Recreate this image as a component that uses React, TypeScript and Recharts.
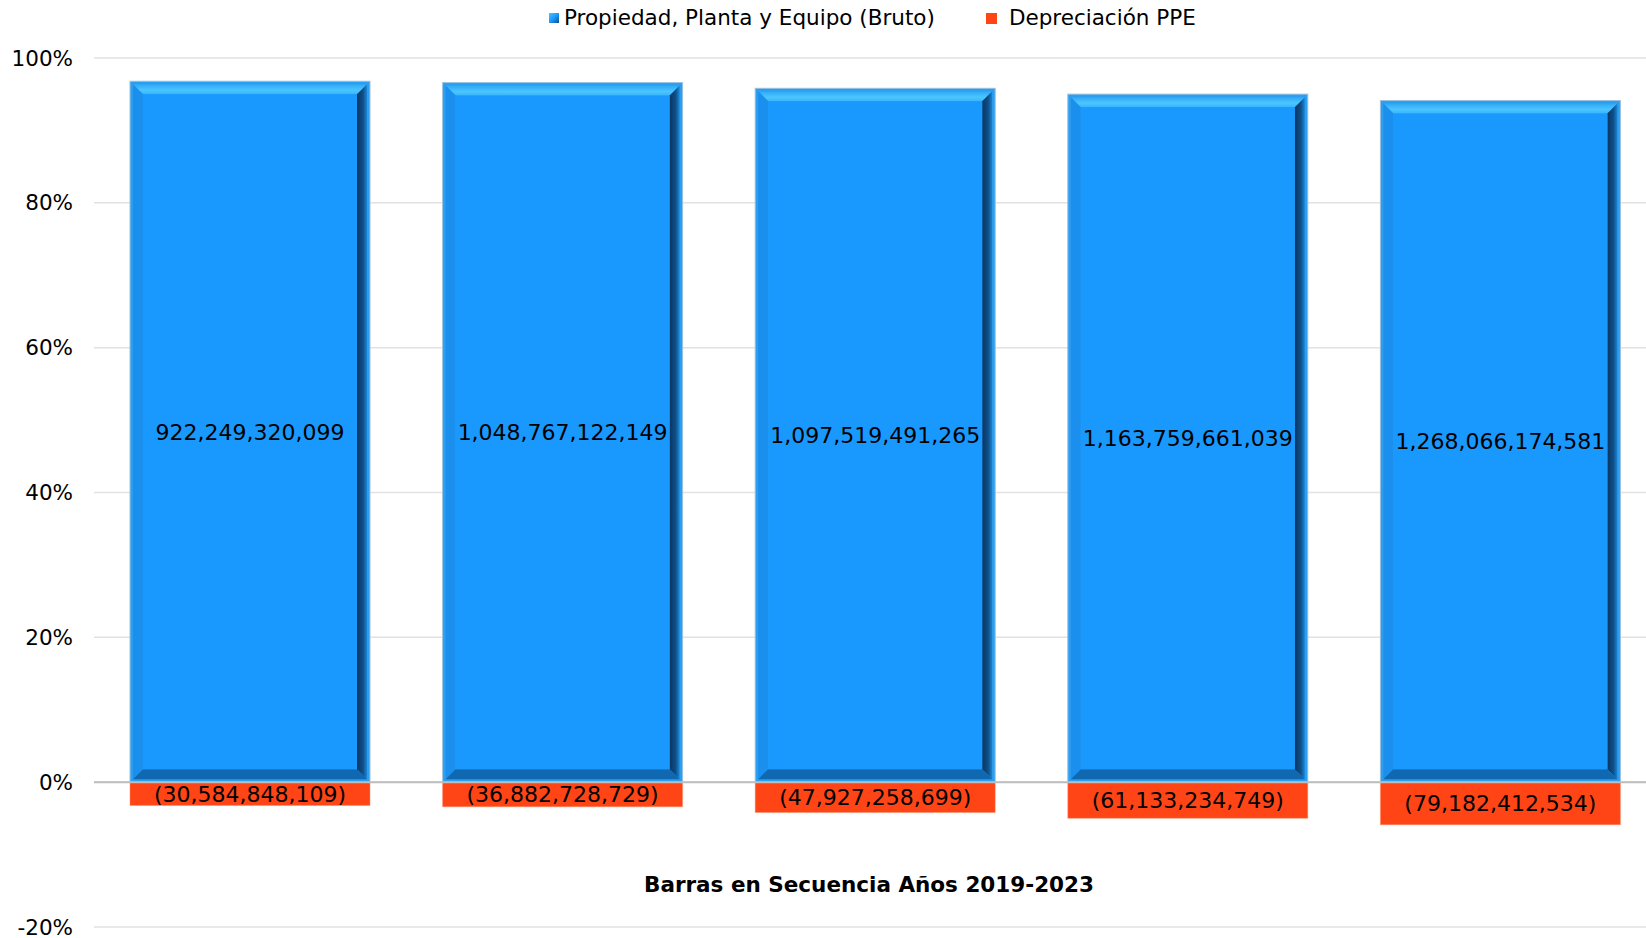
import {
  Bar,
  BarChart,
  CartesianGrid,
  LabelList,
  ReferenceLine,
  XAxis,
  YAxis,
} from "recharts";

const years = ["2019", "2020", "2021", "2022", "2023"];
const gross = [922249320099, 1048767122149, 1097519491265, 1163759661039, 1268066174581];
const depreciation = [-30584848109, -36882728729, -47927258699, -61133234749, -79182412534];
const yTicks = [-0.2, 0, 0.2, 0.4, 0.6, 0.8, 1];

// 100% stacked: each value as a share of the year's absolute total
const data = years.map((year, i) => {
  const total = gross[i] + Math.abs(depreciation[i]);
  return {
    year,
    grossPct: gross[i] / total,
    depPct: depreciation[i] / total,
    grossRaw: gross[i],
    depRaw: depreciation[i],
  };
});

const FONT = "'DejaVu Sans', Verdana, sans-serif";

const fmt = (v: number) =>
  v < 0 ? `(${Math.abs(v).toLocaleString("en-US")})` : v.toLocaleString("en-US");

function BevelBar(props: any) {
  const { x, y, width: w, height: h } = props;
  if (!w || !h) return null;
  const f = 3;
  const b = 10;
  const x0 = x + f, y0 = y + f, x1 = x + w - f, y1 = y + h - f;
  const ix0 = x0 + b, iy0 = y0 + b, ix1 = x1 - b, iy1 = y1 - b;
  const pts = (arr: number[][]) => arr.map((p) => p.join(",")).join(" ");
  return (
    <g>
      <rect x={x} y={y} width={w} height={h} fill="#2a9ff2" stroke="#9cc0dc" strokeWidth={1} />
      <polygon points={pts([[x0, y0], [x1, y0], [ix1, iy0], [ix0, iy0]])} fill="url(#bevelTop)" />
      <polygon points={pts([[x0, y0], [ix0, iy0], [ix0, iy1], [x0, y1]])} fill="#1a8fee" />
      <polygon points={pts([[x1, y0], [x1, y1], [ix1, iy1], [ix1, iy0]])} fill="url(#bevelRight)" />
      <polygon points={pts([[x0, y1], [ix0, iy1], [ix1, iy1], [x1, y1]])} fill="#1068b0" />
      <rect x={ix0} y={iy0} width={ix1 - ix0} height={iy1 - iy0} fill="#1999fd" />
    </g>
  );
}

const legendItem = { display: "flex", alignItems: "center" } as const;

export default function App() {
  return (
    <div
      style={{
        position: "fixed",
        top: 0,
        left: 0,
        width: 1646,
        height: 938,
        overflow: "hidden",
        background: "#fff",
        fontFamily: FONT,
      }}
    >
      <div
        style={{
          position: "absolute",
          top: 5,
          left: 549,
          display: "flex",
          fontSize: 21.5,
          lineHeight: "26px",
          color: "#000",
          whiteSpace: "nowrap",
        }}
      >
        <div style={legendItem}>
          <div
            style={{
              width: 10,
              height: 10,
              marginRight: 5,
              background: "linear-gradient(135deg, #4cc4ff 0%, #1999fd 50%, #0d4f8a 100%)",
            }}
          />
          <span>Propiedad, Planta y Equipo (Bruto)</span>
        </div>
        <div style={{ ...legendItem, marginLeft: 51 }}>
          <div style={{ width: 11, height: 11, marginRight: 12, background: "#ff4516" }} />
          <span>Depreciación PPE</span>
        </div>
      </div>

      <BarChart
        width={1660}
        height={938}
        data={data}
        stackOffset="sign"
        barSize={240}
        margin={{ top: 58, right: 3, bottom: 11, left: 0 }}
      >
        <defs>
          <linearGradient id="bevelTop" x1="0" y1="0" x2="0" y2="1">
            <stop offset="0%" stopColor="#2fa8f5" />
            <stop offset="60%" stopColor="#4cc6ff" />
            <stop offset="100%" stopColor="#38b4fb" />
          </linearGradient>
          <linearGradient id="bevelRight" x1="0" y1="0" x2="1" y2="0">
            <stop offset="0%" stopColor="#0a3560" />
            <stop offset="60%" stopColor="#0f4f88" />
            <stop offset="100%" stopColor="#1a86d6" />
          </linearGradient>
        </defs>
        <CartesianGrid vertical={false} stroke="#e2e2e2" strokeWidth={1.5} />
        <XAxis dataKey="year" hide />
        <YAxis
          domain={[-0.2, 1]}
          ticks={yTicks}
          interval={0}
          width={94}
          axisLine={false}
          tickLine={false}
          tickMargin={15}
          tickFormatter={(v: number) => `${Math.round(v * 100)}%`}
          tick={{ fontSize: 21.5, fill: "#000", fontFamily: FONT }}
        />
        <ReferenceLine y={0} stroke="#bdbdbd" strokeWidth={2} />
        <Bar
          dataKey="grossPct"
          stackId="a"
          shape={<BevelBar />}
          fill="#1999fd"
          isAnimationActive={false}
        >
          <LabelList
            dataKey="grossRaw"
            position="center"
            formatter={(v: any) => fmt(Number(v))}
            style={{ fontSize: 22, fill: "#000", fontFamily: FONT }}
          />
        </Bar>
        <Bar
          dataKey="depPct"
          stackId="a"
          fill="#ff4516"
          stroke="#ff8a66"
          strokeWidth={0.5}
          isAnimationActive={false}
        >
          <LabelList
            dataKey="depRaw"
            position="center"
            formatter={(v: any) => fmt(Number(v))}
            style={{ fontSize: 22, fill: "#000", fontFamily: FONT }}
          />
        </Bar>
      </BarChart>

      <div
        style={{
          position: "absolute",
          left: 569,
          top: 872,
          width: 600,
          textAlign: "center",
          fontSize: 21.5,
          fontWeight: "bold",
          lineHeight: "26px",
          color: "#000",
        }}
      >
        Barras en Secuencia Años 2019-2023
      </div>
    </div>
  );
}
